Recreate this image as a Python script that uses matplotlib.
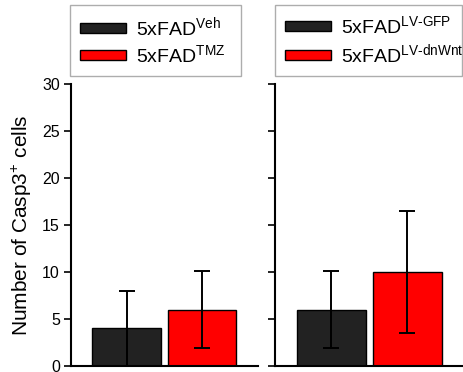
import matplotlib
matplotlib.use("Agg")
import matplotlib.pyplot as plt
from matplotlib.patches import Patch

plt.rcParams['font.family'] = ['Liberation Sans', 'DejaVu Sans']
plt.rcParams['mathtext.fontset'] = 'custom'
plt.rcParams['mathtext.rm'] = 'Liberation Sans'
plt.rcParams['mathtext.it'] = 'Liberation Sans:italic'

# Data
left_labels = ["5xFAD$^{\\mathrm{Veh}}$", "5xFAD$^{\\mathrm{TMZ}}$"]
left_means = [4.0, 6.0]
left_errs = [4.0, 4.1]
right_labels = ["5xFAD$^{\\text{LV-GFP}}$", "5xFAD$^{\\text{LV-dnWnt}}$"]
right_means = [6.0, 10.0]
right_errs = [4.1, 6.5]
colors = ["#222222", "#ff0000"]
yticks = [0, 5, 10, 15, 20, 25, 30]
ylabel = "Number of Casp3$^{+}$ cells"

W, H = 464, 372
fig = plt.figure(figsize=(W/100, H/100), dpi=100)
axL = fig.add_axes([71/W, 6/H, 187/W, 282/H])
axR = fig.add_axes([275/W, 6/H, 189/W, 282/H])

for ax, means, errs, labels, show in [(axL, left_means, left_errs, left_labels, True),
                                       (axR, right_means, right_errs, right_labels, False)]:
    x = list(range(len(means)))
    ax.bar(x, means, width=0.91, color=colors, edgecolor="black", linewidth=1.0, zorder=2)
    ax.errorbar(x, means, yerr=errs, fmt="none", ecolor="black", elinewidth=1.4,
                capsize=6, capthick=1.4, zorder=3)
    ax.set_xlim(-0.74, 1.75)
    ax.set_ylim(0, 30)
    ax.set_yticks(yticks)
    ax.set_xticks([])
    for s in ["top", "right"]:
        ax.spines[s].set_visible(False)
    ax.spines["left"].set_linewidth(1.5)
    ax.spines["bottom"].set_linewidth(1.5)
    ax.tick_params(axis="y", direction="out", length=5, width=1.2, labelsize=11.5, pad=3)
    ax.patch.set_alpha(0)
    if not show:
        ax.set_yticklabels([])
    else:
        ax.set_ylabel(ylabel, fontsize=15, labelpad=6)
    handles = [Patch(facecolor=c, edgecolor="black", linewidth=1.0) for c in colors]
    bb = (70/W, 1 - 74/H, 171/W, 67/H) if show else (275/W, 1 - 74/H, 187/W, 67/H)
    leg = fig.legend(handles, labels, loc="center", bbox_to_anchor=bb,
                     bbox_transform=fig.transFigure, fontsize=14, frameon=True,
                     fancybox=False, edgecolor="#999999", handlelength=2.4,
                     handleheight=0.4, handletextpad=0.5, labelspacing=0.25,
                     borderpad=0.5, borderaxespad=0, mode="expand")
    leg.get_frame().set_linewidth(1.0)

fig.savefig("out.png", dpi=100)
